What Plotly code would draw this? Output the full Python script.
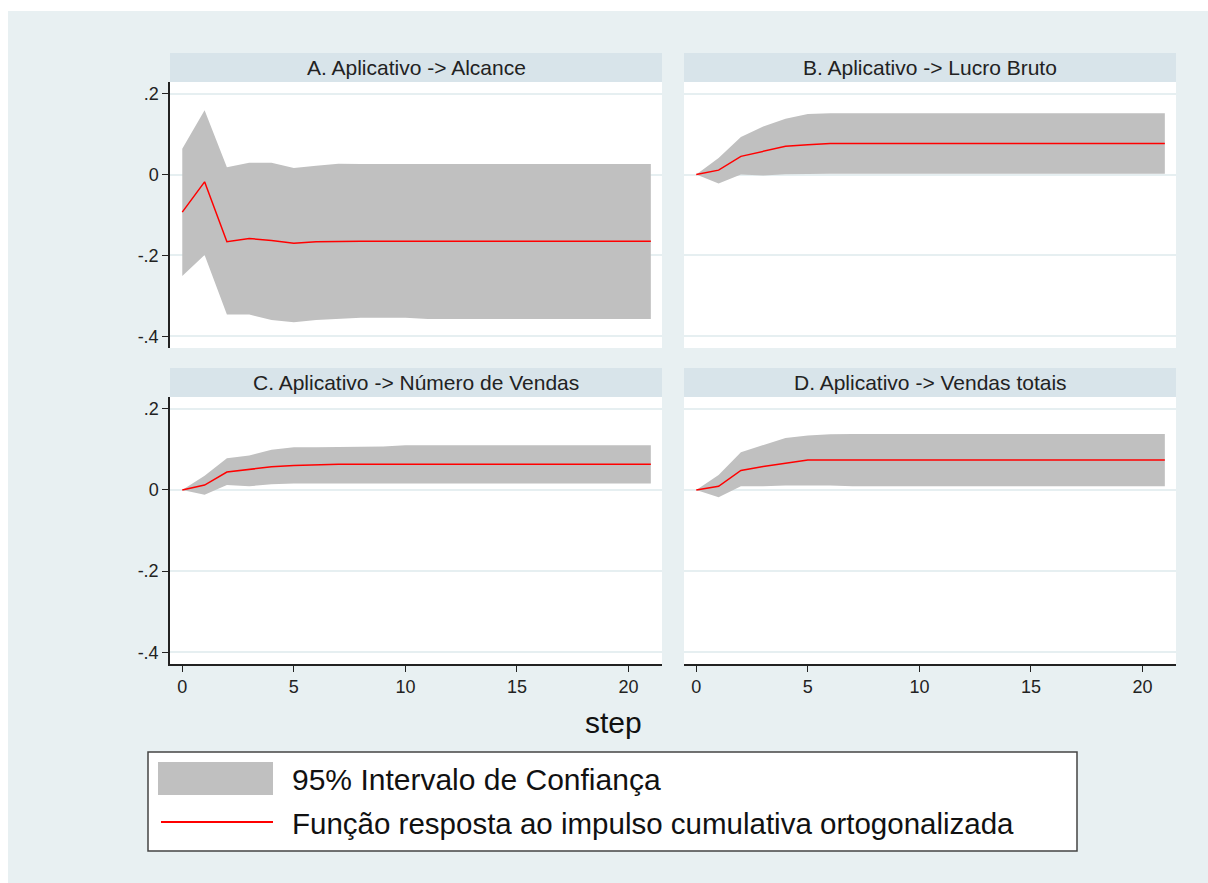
import plotly.graph_objects as go

W, H = 1208, 883

steps = list(range(22))

titles = ["A. Aplicativo -> Alcance", "B. Aplicativo -> Lucro Bruto",
          "C. Aplicativo -> Número de Vendas", "D. Aplicativo -> Vendas totais"]

irf_A = [-0.093, -0.018, -0.166, -0.158, -0.163, -0.170, -0.166, -0.165, -0.165, -0.165, -0.165,
         -0.165, -0.165, -0.165, -0.165, -0.165, -0.165, -0.165, -0.165, -0.165, -0.165, -0.165]
ub_A = [0.064, 0.159, 0.018, 0.029, 0.029, 0.016, 0.022, 0.027, 0.026, 0.026, 0.026,
        0.026, 0.026, 0.026, 0.026, 0.026, 0.026, 0.026, 0.026, 0.026, 0.026, 0.026]
lb_A = [-0.251, -0.199, -0.346, -0.346, -0.360, -0.365, -0.360, -0.357, -0.354, -0.354, -0.354,
        -0.357, -0.357, -0.357, -0.357, -0.357, -0.357, -0.357, -0.357, -0.357, -0.357, -0.357]

irf_B = [0.0, 0.011, 0.045, 0.058, 0.070, 0.074, 0.077, 0.077, 0.077, 0.077, 0.077,
         0.077, 0.077, 0.077, 0.077, 0.077, 0.077, 0.077, 0.077, 0.077, 0.077, 0.077]
ub_B = [0.0, 0.041, 0.093, 0.119, 0.138, 0.150, 0.152, 0.152, 0.152, 0.152, 0.152,
        0.152, 0.152, 0.152, 0.152, 0.152, 0.152, 0.152, 0.152, 0.152, 0.152, 0.152]
lb_B = [0.0, -0.022, 0.0, -0.002, 0.001, 0.002, 0.002, 0.002, 0.002, 0.002, 0.002,
        0.002, 0.002, 0.002, 0.002, 0.002, 0.002, 0.002, 0.002, 0.002, 0.002, 0.002]

irf_C = [0.0, 0.012, 0.044, 0.050, 0.057, 0.060, 0.062, 0.063, 0.063, 0.063, 0.063,
         0.063, 0.063, 0.063, 0.063, 0.063, 0.063, 0.063, 0.063, 0.063, 0.063, 0.063]
ub_C = [0.0, 0.035, 0.078, 0.085, 0.099, 0.105, 0.105, 0.106, 0.106, 0.107, 0.110,
        0.110, 0.110, 0.110, 0.110, 0.110, 0.110, 0.110, 0.110, 0.110, 0.110, 0.110]
lb_C = [0.0, -0.012, 0.012, 0.009, 0.014, 0.016, 0.016, 0.016, 0.016, 0.016, 0.016,
        0.016, 0.016, 0.016, 0.016, 0.016, 0.016, 0.016, 0.016, 0.016, 0.016, 0.016]

irf_D = [0.0, 0.009, 0.048, 0.058, 0.066, 0.074, 0.074, 0.074, 0.074, 0.074, 0.074,
         0.074, 0.074, 0.074, 0.074, 0.074, 0.074, 0.074, 0.074, 0.074, 0.074, 0.074]
ub_D = [0.0, 0.037, 0.093, 0.111, 0.128, 0.134, 0.137, 0.138, 0.138, 0.138, 0.138,
        0.138, 0.138, 0.138, 0.138, 0.138, 0.138, 0.138, 0.138, 0.138, 0.138, 0.138]
lb_D = [0.0, -0.018, 0.009, 0.009, 0.011, 0.011, 0.011, 0.009, 0.009, 0.009, 0.009,
        0.009, 0.009, 0.009, 0.009, 0.009, 0.009, 0.009, 0.009, 0.009, 0.009, 0.009]

ytick_vals = [-0.4, -0.2, 0, 0.2]
ytick_text = ["-.4", "-.2", "0", ".2"]
xtick_vals = [0, 5, 10, 15, 20]

legend_labels = ["95% Intervalo de Confiança", "Função resposta ao impulso cumulativa ortogonalizada"]

BG = "#e8f0f2"
STRIP = "#d8e4ea"
GRID = "#e6eff1"
BAND = "#c0c0c0"
FONT = "Liberation Sans, Arial, sans-serif"


def px_x(v):
    return v / W


def px_y(v):
    return 1 - v / H


# panel pixel boxes (page coords): (x0, x1, y0, y1)
boxes = [(170, 662, 82, 348), (684, 1176, 82, 348),
         (170, 662, 397, 664), (684, 1176, 397, 664)]
strip_h = 29

data = [(irf_A, ub_A, lb_A), (irf_B, ub_B, lb_B), (irf_C, ub_C, lb_C), (irf_D, ub_D, lb_D)]

fig = go.Figure()
shapes = []
annotations = []

# background
shapes.append(dict(type="rect", xref="paper", yref="paper", x0=px_x(8), x1=1, y0=0, y1=px_y(11),
                   fillcolor=BG, line=dict(width=0), layer="below"))

layout_axes = {}
for i, ((x0, x1, y0, y1), (irf, ub, lb)) in enumerate(zip(boxes, data)):
    n = i + 1
    xa = "x" if n == 1 else f"x{n}"
    ya = "y" if n == 1 else f"y{n}"
    fig.add_trace(go.Scatter(x=steps, y=lb, mode="lines", line=dict(width=0, color=BAND),
                             xaxis=xa, yaxis=ya, showlegend=False, hoverinfo="skip"))
    fig.add_trace(go.Scatter(x=steps, y=ub, mode="lines", line=dict(width=0, color=BAND),
                             fill="tonexty", fillcolor=BAND,
                             xaxis=xa, yaxis=ya, showlegend=False, hoverinfo="skip"))
    fig.add_trace(go.Scatter(x=steps, y=irf, mode="lines", line=dict(width=1.5, color="#ff0000"),
                             xaxis=xa, yaxis=ya, showlegend=False))
    left = (n in (1, 3))
    bottom = (n in (3, 4))
    layout_axes["xaxis" if n == 1 else f"xaxis{n}"] = dict(
        domain=[px_x(x0), px_x(x1)], anchor=ya, range=[-0.55, 21.5],
        tickvals=xtick_vals, showticklabels=bottom, ticks="outside" if bottom else "",
        ticklen=6, tickcolor="#222", tickwidth=1,
        showline=bottom, linecolor="#222", linewidth=1.5,
        showgrid=False, zeroline=False,
        tickfont=dict(family=FONT, size=18, color="#222"))
    layout_axes["yaxis" if n == 1 else f"yaxis{n}"] = dict(
        domain=[px_y(y1), px_y(y0)], anchor=xa, range=[-0.429, 0.229],
        tickvals=ytick_vals, ticktext=ytick_text, showticklabels=left,
        ticks="outside" if left else "", ticklen=6, tickcolor="#222", tickwidth=1,
        showline=left, linecolor="#222", linewidth=1.5,
        showgrid=True, gridcolor=GRID, gridwidth=1.5, zeroline=False,
        tickfont=dict(family=FONT, size=18, color="#222"))
    # plot region white
    shapes.append(dict(type="rect", xref="paper", yref="paper", x0=px_x(x0), x1=px_x(x1),
                       y0=px_y(y1), y1=px_y(y0), fillcolor="white", line=dict(width=0), layer="below"))
    # strip
    shapes.append(dict(type="rect", xref="paper", yref="paper", x0=px_x(x0), x1=px_x(x1),
                       y0=px_y(y0), y1=px_y(y0 - strip_h), fillcolor=STRIP, line=dict(width=0), layer="below"))
    annotations.append(dict(xref="paper", yref="paper", x=px_x((x0 + x1) / 2), y=px_y(y0 - strip_h / 2),
                            text=titles[i], showarrow=False, xanchor="center", yanchor="middle",
                            font=dict(family=FONT, size=21, color="#222")))

# x axis title
annotations.append(dict(xref="paper", yref="paper", x=px_x(613), y=px_y(722), text="step",
                        showarrow=False, xanchor="center", yanchor="middle",
                        font=dict(family=FONT, size=30, color="#111")))

# legend box
shapes.append(dict(type="rect", xref="paper", yref="paper", x0=px_x(148), x1=px_x(1077),
                   y0=px_y(851), y1=px_y(752), fillcolor="white", line=dict(width=1.5, color="#444"),
                   layer="below"))
shapes.append(dict(type="rect", xref="paper", yref="paper", x0=px_x(158), x1=px_x(273),
                   y0=px_y(795), y1=px_y(762), fillcolor=BAND, line=dict(width=0)))
shapes.append(dict(type="line", xref="paper", yref="paper", x0=px_x(161), x1=px_x(273),
                   y0=px_y(822), y1=px_y(822), line=dict(width=2, color="#ff0000")))
annotations.append(dict(xref="paper", yref="paper", x=px_x(290), y=px_y(779), text=legend_labels[0],
                        showarrow=False, xanchor="left", yanchor="middle",
                        font=dict(family=FONT, size=30, color="#111")))
annotations.append(dict(xref="paper", yref="paper", x=px_x(290), y=px_y(823), text=legend_labels[1],
                        showarrow=False, xanchor="left", yanchor="middle",
                        font=dict(family=FONT, size=29.5, color="#111")))

fig.update_layout(width=W, height=H, margin=dict(l=0, r=0, t=0, b=0),
                  paper_bgcolor="white", plot_bgcolor="rgba(0,0,0,0)",
                  shapes=shapes, annotations=annotations, showlegend=False,
                  **layout_axes)

fig.write_html("out.html", config={"displayModeBar": False},
               post_script="document.body.style.margin='0';document.body.style.overflow='hidden';")
